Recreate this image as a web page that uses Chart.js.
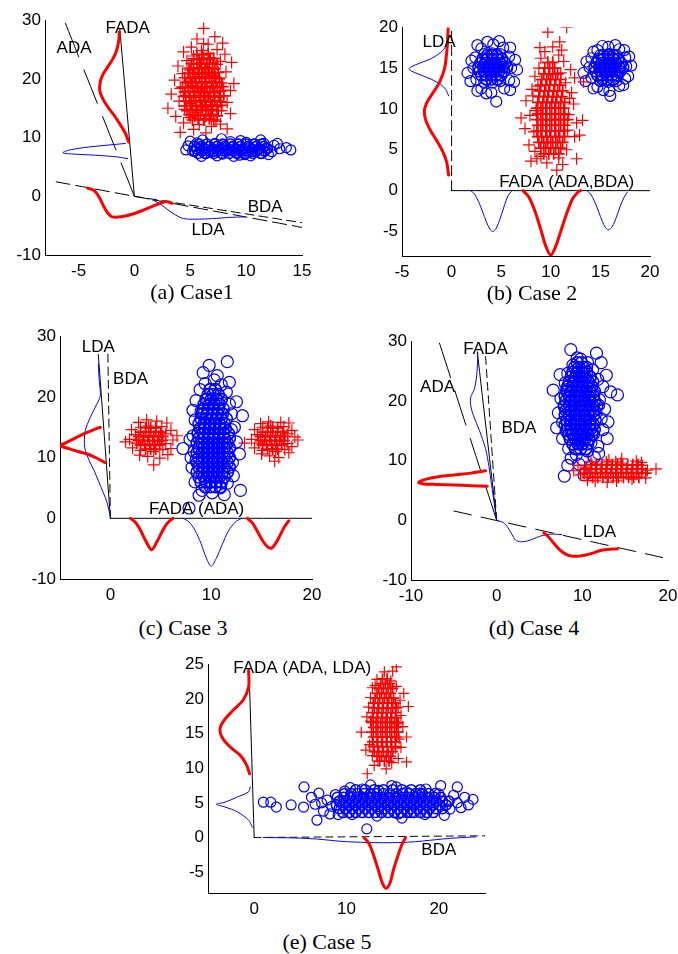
<!DOCTYPE html>
<html>
<head>
<meta charset="utf-8">
<script src="https://cdn.jsdelivr.net/npm/chart.js@4.4.1/dist/chart.umd.min.js"></script>
<style>
  body { margin: 0; background: #fff; }
  #page { position: relative; width: 678px; height: 954px; overflow: hidden; background: #fff; }
  .panel { position: absolute; }
  .caption { position: absolute; font: 22px "Liberation Serif", "Times New Roman", serif; line-height: 26px; color: #000; transform: translateX(-50%); white-space: nowrap; }
</style>
</head>
<body>
<div id="page"></div>
<script>
// ---------- (a) Case1 ----------
const aXRange = [-8, 15];
const aYRange = [-10, 30];
const aXTicks = [-5, 0, 5, 10, 15];
const aYTicks = [-10, 0, 10, 20, 30];
const aRedPts = [[6.2,28.6],[7.2,27.2],[5.6,26.8],[6.6,25.9],[5.1,25.4],[7.4,25.0],[4.4,24.6],[6.0,24.8],[8.1,24.2],[5.3,23.9],[6.8,23.6],[4.7,23.1],[7.7,23.0],[8.7,22.8],[5.9,22.6],[3.9,22.2],[6.4,22.0],[7.2,21.8],[5.0,21.5],[8.2,21.2],[4.3,20.9],[6.0,20.8],[6.9,20.6],[5.5,20.2],[7.6,20.0],[3.6,19.8],[4.8,19.6],[6.3,19.4],[8.9,19.2],[5.2,18.9],[7.1,18.8],[4.1,18.4],[6.0,18.3],[8.0,18.1],[8.6,18.0],[5.6,17.8],[6.7,17.6],[3.3,17.4],[4.6,17.2],[7.5,17.1],[5.9,16.8],[6.4,16.4],[4.0,16.2],[8.3,16.0],[5.1,15.8],[7.0,15.6],[3.0,15.0],[6.1,15.2],[4.5,14.8],[7.8,14.6],[5.6,14.3],[6.8,14.0],[8.6,14.1],[3.7,13.6],[5.0,13.4],[6.3,13.1],[7.3,12.8],[4.4,12.5],[5.8,12.2],[6.9,11.9],[8.3,11.5],[4.1,10.9],[5.3,11.4],[6.4,10.8],[7.7,12.3],[6.2,26.0],[7.9,26.1]];
const aRedCore = [[5.2,13.0],[5.7,13.2],[6.2,13.0],[6.7,13.2],[7.1,13.0],[4.9,13.9],[5.4,13.7],[5.9,13.9],[6.4,13.7],[6.9,13.9],[7.4,13.7],[4.7,14.6],[5.2,14.8],[5.6,14.6],[6.1,14.8],[6.6,14.6],[7.0,14.8],[7.5,14.6],[4.5,15.4],[5.0,15.5],[5.5,15.3],[6.0,15.5],[6.4,15.3],[6.9,15.5],[7.4,15.3],[7.8,15.5],[4.6,16.2],[5.1,16.1],[5.5,16.3],[5.9,16.1],[6.3,16.3],[6.8,16.1],[7.2,16.3],[7.7,16.1],[4.4,17.0],[4.9,16.9],[5.3,17.1],[5.8,16.9],[6.2,17.1],[6.6,16.9],[7.1,17.1],[7.6,16.9],[8.0,17.1],[4.5,17.8],[5.0,17.9],[5.4,17.7],[5.9,17.9],[6.3,17.7],[6.8,17.9],[7.2,17.7],[7.7,17.9],[4.3,18.6],[4.8,18.5],[5.2,18.7],[5.7,18.5],[6.1,18.7],[6.5,18.5],[7.0,18.7],[7.4,18.5],[7.9,18.7],[4.6,19.4],[5.1,19.3],[5.5,19.5],[6.0,19.3],[6.4,19.5],[6.9,19.3],[7.3,19.5],[7.8,19.3],[4.5,20.2],[5.0,20.1],[5.4,20.3],[5.8,20.1],[6.3,20.3],[6.7,20.1],[7.2,20.3],[7.6,20.1],[4.8,21.0],[5.2,20.9],[5.7,21.1],[6.1,20.9],[6.6,21.1],[7.0,20.9],[7.5,21.1],[4.9,21.8],[5.3,21.7],[5.8,21.9],[6.3,21.7],[6.7,21.9],[7.2,21.7],[5.1,22.6],[5.6,22.5],[6.0,22.7],[6.5,22.5],[7.0,22.7],[7.4,22.5],[5.3,23.4],[5.8,23.3],[6.2,23.5],[6.7,23.3],[7.1,23.5],[5.6,24.2],[6.1,24.1],[6.6,24.3]];
const aBluePts = [[4.8,8.6],[5.2,7.7],[5.6,9.1],[5.9,8.2],[6.3,7.3],[6.1,9.6],[6.7,8.5],[7.0,7.6],[7.2,9.0],[7.5,8.1],[7.9,7.2],[8.0,8.8],[8.3,7.9],[8.6,9.3],[8.8,8.4],[9.1,7.5],[9.3,8.9],[9.6,8.0],[9.9,7.1],[10.0,9.2],[10.3,8.3],[10.6,7.6],[10.8,8.9],[11.1,8.0],[11.4,7.3],[11.6,9.0],[11.9,8.2],[12.3,7.6],[12.5,8.7],[13.0,8.1],[13.6,8.3],[14.0,7.9],[9.5,9.5],[11.3,9.6],[12.0,7.1],[6.0,6.8],[7.4,6.9],[8.9,6.8],[10.4,6.9],[5.0,9.4],[12.8,9.0],[4.6,7.9],[7.8,9.8],[9.4,7.0]];
const aBlueCore = [[5.7,7.3],[6.4,7.3],[7.1,7.3],[7.8,7.3],[8.5,7.3],[9.2,7.3],[9.9,7.3],[10.6,7.3],[11.3,7.3],[5.4,7.7],[6.05,7.7],[6.75,7.7],[7.45,7.7],[8.15,7.7],[8.85,7.7],[9.55,7.7],[10.25,7.7],[10.95,7.7],[11.65,7.7],[5.6,8.1],[6.3,8.1],[7.0,8.1],[7.7,8.1],[8.4,8.1],[9.1,8.1],[9.8,8.1],[10.5,8.1],[11.2,8.1],[11.9,8.1],[5.35,8.5],[6.0,8.5],[6.7,8.5],[7.4,8.5],[8.1,8.5],[8.8,8.5],[9.5,8.5],[10.2,8.5],[10.9,8.5],[11.6,8.5],[5.8,8.9],[6.5,8.9],[7.2,8.9],[7.9,8.9],[8.6,8.9],[9.3,8.9],[10.0,8.9],[10.7,8.9],[11.4,8.9]];
const aRedDensUp = [[-0.5,9.2],[-0.8,10.7],[-1.2,12],[-1.7,13.5],[-2.3,15],[-2.8,16.5],[-3.1,18],[-3.05,19.5],[-2.8,20.8],[-2.4,22],[-1.9,23.5],[-1.6,24.8],[-1.4,26.5],[-1.35,28]];
const aBlueDensLeft = [[-0.8,9.0],[-2.5,8.7],[-4.5,8.3],[-6.0,7.8],[-6.4,7.4],[-5.5,7.2],[-3.5,7.0],[-1.5,6.7],[-0.6,6.4]];
const aRedDensLow = [[-4.2,1.4],[-3.6,1.0],[-3.2,0],[-2.8,-1.5],[-2.4,-2.8],[-2.0,-3.5],[-1.2,-3.5],[-0.3,-3.1],[0.6,-2.5],[1.5,-1.8],[2.2,-1.3],[2.8,-0.9],[3.4,-1.2]];
const aBlueDensLow = [[1.6,-0.6],[2.3,-1.3],[3.0,-2.3],[3.7,-3.2],[4.4,-3.8],[5.5,-3.9],[7,-3.8],[8.5,-3.6],[9.9,-3.5]];
const aFadaLine = [[0,0],[-1.3,28.4]];
const aAdaLine = [[0,0],[-6.2,29.6]];
const aLdaLine = [[-7,2.47],[15,-5.3]];
const aBdaLine = [[0,0],[15,-4.5]];
const aLabels = [['FADA',-0.6,28.6],['ADA',-5.4,25.2],['BDA',11.7,-1.8],['LDA',6.6,-5.8]];

// ---------- (b) Case 2 ----------
const bXRange = [-5, 20];
const bYRange = [-8, 20];
const bXTicks = [-5, 0, 5, 10, 15, 20];
const bYTicks = [-5, 0, 5, 10, 15, 20];
const bBluePts1 = [[2.2,15.0],[6.0,15.0],[2.4,16.3],[5.8,16.4],[2.5,13.6],[5.8,13.5],[3.0,17.4],[5.2,17.5],[3.0,12.5],[5.3,12.5],[4.2,17.9],[4.0,12.0],[1.6,14.4],[6.6,14.8],[2.0,15.9],[6.4,16.0],[1.9,13.4],[6.3,13.3],[3.6,18.2],[4.8,18.3],[3.5,11.9],[4.5,10.9],[2.6,17.8],[5.9,17.5],[2.6,12.2],[5.9,12.3],[4.1,16.8],[4.1,13.2],[3.3,16.7],[4.9,16.7],[3.3,13.3],[4.9,13.4]];
const bBlueCore1 = [[3.5,13.6],[4.0,13.6],[4.6,13.6],[3.0,14.1],[3.5,14.1],[4.0,14.1],[4.5,14.1],[5.0,14.1],[2.8,14.6],[3.3,14.6],[3.8,14.6],[4.3,14.6],[4.8,14.6],[5.3,14.6],[2.7,15.1],[3.2,15.1],[3.7,15.1],[4.2,15.1],[4.7,15.1],[5.2,15.1],[5.6,15.1],[2.9,15.6],[3.4,15.6],[3.9,15.6],[4.4,15.6],[4.9,15.6],[5.4,15.6],[3.1,16.1],[3.6,16.1],[4.1,16.1],[4.6,16.1],[5.1,16.1],[3.6,16.6],[4.1,16.6],[4.6,16.6]];
const bBluePts2 = [[13.9,15.1],[17.6,15.2],[14.1,16.2],[17.5,16.3],[14.1,13.8],[17.5,13.7],[14.7,17.2],[16.9,17.3],[14.7,12.7],[16.9,12.8],[15.8,17.6],[15.9,12.2],[13.3,14.4],[18.1,15.3],[13.6,15.8],[17.9,16.4],[13.5,13.4],[17.8,14.0],[15.2,17.7],[16.5,17.8],[15.3,12.3],[16.0,11.6],[14.3,17.0],[17.4,17.2],[14.3,12.5],[17.3,12.9],[15.9,16.7],[15.8,13.3],[15.0,16.6],[16.6,16.6],[15.0,13.4],[16.6,13.4]];
const bBlueCore2 = [[15.2,13.6],[15.7,13.6],[16.3,13.6],[14.7,14.1],[15.2,14.1],[15.7,14.1],[16.2,14.1],[16.7,14.1],[14.5,14.6],[15.0,14.6],[15.5,14.6],[16.0,14.6],[16.5,14.6],[17.0,14.6],[14.4,15.1],[14.9,15.1],[15.4,15.1],[15.9,15.1],[16.4,15.1],[16.9,15.1],[17.3,15.1],[14.6,15.6],[15.1,15.6],[15.6,15.6],[16.1,15.6],[16.6,15.6],[17.1,15.6],[14.8,16.1],[15.3,16.1],[15.8,16.1],[16.3,16.1],[16.8,16.1],[15.3,16.6],[15.8,16.6],[16.3,16.6]];
const bRedPts = [[9.7,19.4],[11.6,20.0],[10.2,17.6],[9.4,17.0],[10.8,16.6],[9.0,16.2],[11.3,15.8],[8.8,15.0],[11.0,14.4],[12.0,14.8],[8.4,14.0],[11.5,13.2],[13.3,13.3],[8.7,12.8],[12.1,12.0],[8.2,11.6],[12.3,10.6],[8.5,9.8],[11.8,9.3],[7.9,9.2],[7.0,8.9],[12.6,8.3],[11.7,7.4],[8.3,7.2],[12.4,6.6],[7.8,5.6],[11.6,5.0],[8.4,4.8],[12.6,3.9],[9.0,4.2],[10.8,4.0],[8.0,3.6],[9.6,3.4],[11.2,3.2],[10.6,2.5],[8.6,3.9],[12.9,6.8],[7.4,7.6],[8.1,12.4],[11.9,11.3],[11.1,17.2],[10.9,18.2],[8.9,17.5],[12.4,13.8],[13.2,8.6],[7.5,11.0]];
const bRedCore = [[9.3,4.5],[9.8,4.5],[10.3,4.5],[10.8,4.5],[9.0,5.2],[9.5,5.2],[10.0,5.2],[10.5,5.2],[11.0,5.2],[8.8,5.9],[9.3,5.9],[9.7,5.9],[10.2,5.9],[10.7,5.9],[11.2,5.9],[8.7,6.6],[9.1,6.6],[9.6,6.6],[10.0,6.6],[10.5,6.6],[10.9,6.6],[11.4,6.6],[8.6,7.3],[9.0,7.3],[9.5,7.3],[9.9,7.3],[10.4,7.3],[10.8,7.3],[11.3,7.3],[8.7,8.0],[9.2,8.0],[9.6,8.0],[10.1,8.0],[10.5,8.0],[11.0,8.0],[11.4,8.0],[8.6,8.7],[9.0,8.7],[9.5,8.7],[9.9,8.7],[10.4,8.7],[10.8,8.7],[11.3,8.7],[11.7,8.7],[8.7,9.4],[9.2,9.4],[9.6,9.4],[10.1,9.4],[10.5,9.4],[11.0,9.4],[11.4,9.4],[8.6,10.1],[9.0,10.1],[9.5,10.1],[9.9,10.1],[10.4,10.1],[10.8,10.1],[11.3,10.1],[8.7,10.8],[9.2,10.8],[9.6,10.8],[10.1,10.8],[10.5,10.8],[11.0,10.8],[11.4,10.8],[8.8,11.5],[9.3,11.5],[9.7,11.5],[10.2,11.5],[10.6,11.5],[11.1,11.5],[8.9,12.2],[9.4,12.2],[9.8,12.2],[10.3,12.2],[10.7,12.2],[11.2,12.2],[9.0,12.9],[9.5,12.9],[9.9,12.9],[10.4,12.9],[10.9,12.9],[9.1,13.6],[9.6,13.6],[10.0,13.6],[10.5,13.6],[11.0,13.6],[9.3,14.3],[9.8,14.3],[10.2,14.3],[10.7,14.3],[9.4,15.0],[9.9,15.0],[10.4,15.0],[9.7,15.7],[10.2,15.7]];
const bBlueDensLeft = [[-0.3,18.5],[-0.6,17.6],[-1.1,16.9],[-2.0,16.2],[-3.2,15.6],[-4.0,15.2],[-4.3,14.9],[-4.0,14.6],[-3.2,14.2],[-2.0,13.6],[-1.1,13.0],[-0.6,12.4],[-0.3,11.6]];
const bRedDensLeft = [[-0.35,19.8],[-0.45,17.5],[-0.7,15],[-1.2,13.3],[-1.8,12.1],[-2.4,11],[-2.75,9.8],[-2.6,8.6],[-2.1,7.3],[-1.5,6.1],[-0.9,4.8],[-0.5,3.5],[-0.3,1.9]];
const bBlueDip1 = [[1.9,0],[2.3,-0.4],[2.7,-1.3],[3.1,-2.5],[3.5,-3.8],[3.85,-4.7],[4.15,-5.0],[4.5,-4.6],[4.9,-3.4],[5.3,-1.9],[5.7,-0.6],[6.1,0]];
const bBlueDip2 = [[13.6,0],[14.0,-0.4],[14.4,-1.3],[14.8,-2.5],[15.2,-3.8],[15.5,-4.5],[15.8,-4.8],[16.2,-4.4],[16.6,-3.3],[17.0,-1.9],[17.4,-0.8],[17.7,-0.2]];
const bRedDip = [[7.2,0],[7.8,-0.8],[8.4,-2.5],[9.0,-4.8],[9.5,-6.8],[10.0,-7.9],[10.5,-6.8],[11.0,-5.0],[11.6,-2.8],[12.2,-1.0],[12.8,-0.1],[13.0,0]];
const bLdaLine = [[0,0],[0,19.5]];
const bFadaLine = [[0,0],[20,0]];
const bLabels = [['LDA',-1.27,18.1],['FADA (ADA,BDA)',11.6,1.0]];

// ---------- (c) Case 3 ----------
const cXRange = [-5, 20];
const cYRange = [-10, 30];
const cXTicks = [0, 10, 20];
const cYTicks = [-10, 0, 10, 20, 30];
const cRedPts1 = [[3.8,15.2],[4.3,11.0],[3.0,15.0],[5.1,15.1],[3.0,11.2],[5.2,11.3],[1.9,13.0],[6.2,12.9],[2.1,14.6],[6.0,14.5],[2.2,11.6],[6.0,11.5],[3.6,16.2],[4.6,16.0],[3.7,10.2],[4.9,9.9],[4.3,8.8],[1.5,12.6],[6.6,13.6],[2.8,15.8],[5.6,15.7],[2.9,10.4],[5.7,10.5],[2.5,13.8],[5.5,13.9],[2.6,12.4],[5.5,12.3]];
const cRedCore1 = [[3.5,11.4],[4.0,11.4],[4.5,11.4],[3.0,12.1],[3.4,12.1],[3.9,12.1],[4.4,12.1],[4.9,12.1],[2.8,12.8],[3.2,12.8],[3.7,12.8],[4.2,12.8],[4.7,12.8],[5.1,12.8],[2.8,13.5],[3.3,13.5],[3.8,13.5],[4.3,13.5],[4.8,13.5],[5.2,13.5],[3.0,14.2],[3.5,14.2],[4.0,14.2],[4.5,14.2],[5.0,14.2],[3.5,14.9],[4.0,14.9],[4.5,14.9]];
const cRedPts2 = [[15.9,15.2],[16.4,11.0],[15.1,15.0],[17.2,15.1],[15.1,11.2],[17.3,11.3],[14.0,13.0],[18.3,13.4],[14.3,14.6],[18.0,14.5],[14.3,11.6],[18.0,11.8],[15.7,15.9],[16.9,15.8],[15.8,10.3],[16.7,10.0],[16.3,9.4],[13.3,12.4],[18.6,12.9],[14.9,15.6],[17.7,15.7],[15.0,10.6],[17.7,10.8],[14.6,13.8],[17.6,13.9],[14.7,12.4],[17.6,12.3]];
const cRedCore2 = [[15.6,11.4],[16.1,11.4],[16.6,11.4],[15.1,12.1],[15.5,12.1],[16.0,12.1],[16.5,12.1],[17.0,12.1],[14.9,12.8],[15.3,12.8],[15.8,12.8],[16.3,12.8],[16.8,12.8],[17.2,12.8],[14.9,13.5],[15.4,13.5],[15.9,13.5],[16.4,13.5],[16.9,13.5],[17.3,13.5],[15.1,14.2],[15.6,14.2],[16.1,14.2],[16.6,14.2],[17.1,14.2],[15.6,14.9],[16.1,14.9],[16.6,14.9]];
const cBluePts = [[9.8,25.2],[11.6,25.8],[10.3,22.8],[9.4,22.2],[11.0,22.0],[8.9,21.2],[11.5,20.8],[8.5,19.4],[11.8,18.8],[9.0,17.6],[12.0,17.2],[13.1,16.9],[8.4,16.2],[12.3,15.0],[8.2,13.6],[12.5,12.6],[7.2,11.5],[8.3,11.0],[12.8,10.6],[8.5,9.6],[12.1,9.2],[8.1,8.4],[12.2,7.0],[11.6,5.8],[8.4,6.0],[10.9,5.0],[12.9,4.6],[9.1,4.6],[10.1,4.2],[8.8,3.8],[11.3,3.9],[7.8,1.7],[8.2,17.8],[12.5,19.2],[10.6,23.5],[7.9,13.0],[9.2,24.0],[11.8,22.4],[12.0,14.6],[8.0,10.0]];
const cBlueCore = [[9.4,5.2],[9.9,5.2],[10.4,5.2],[10.9,5.2],[9.0,6.0],[9.5,6.0],[10.0,6.0],[10.5,6.0],[11.0,6.0],[8.8,6.8],[9.3,6.8],[9.8,6.8],[10.3,6.8],[10.8,6.8],[11.3,6.8],[8.6,7.6],[9.1,7.6],[9.6,7.6],[10.1,7.6],[10.6,7.6],[11.1,7.6],[11.6,7.6],[8.8,8.4],[9.3,8.4],[9.8,8.4],[10.3,8.4],[10.8,8.4],[11.3,8.4],[11.8,8.4],[8.6,9.2],[9.1,9.2],[9.6,9.2],[10.1,9.2],[10.6,9.2],[11.1,9.2],[11.6,9.2],[8.8,10.0],[9.3,10.0],[9.8,10.0],[10.3,10.0],[10.8,10.0],[11.3,10.0],[11.8,10.0],[8.6,10.8],[9.1,10.8],[9.6,10.8],[10.1,10.8],[10.6,10.8],[11.1,10.8],[11.6,10.8],[8.8,11.6],[9.3,11.6],[9.8,11.6],[10.3,11.6],[10.8,11.6],[11.3,11.6],[11.8,11.6],[8.6,12.4],[9.1,12.4],[9.6,12.4],[10.1,12.4],[10.6,12.4],[11.1,12.4],[11.6,12.4],[8.8,13.2],[9.3,13.2],[9.8,13.2],[10.3,13.2],[10.8,13.2],[11.3,13.2],[11.8,13.2],[8.7,14.0],[9.2,14.0],[9.7,14.0],[10.2,14.0],[10.7,14.0],[11.2,14.0],[11.7,14.0],[8.9,14.8],[9.4,14.8],[9.9,14.8],[10.4,14.8],[10.9,14.8],[11.4,14.8],[8.8,15.6],[9.3,15.6],[9.8,15.6],[10.3,15.6],[10.8,15.6],[11.3,15.6],[9.0,16.4],[9.5,16.4],[10.0,16.4],[10.5,16.4],[11.0,16.4],[11.5,16.4],[9.1,17.2],[9.6,17.2],[10.1,17.2],[10.6,17.2],[11.1,17.2],[9.2,18.0],[9.7,18.0],[10.2,18.0],[10.7,18.0],[11.2,18.0],[9.3,18.8],[9.8,18.8],[10.3,18.8],[10.8,18.8],[9.5,19.6],[10.0,19.6],[10.5,19.6],[11.0,19.6],[9.7,20.4],[10.2,20.4],[10.7,20.4],[9.9,21.2],[10.4,21.2]];
const cRedDensLeft = [[-1.0,15.0],[-1.8,14.5],[-2.65,13.9],[-3.4,13.3],[-4.0,12.8],[-4.6,12.3],[-5.0,12.0],[-4.6,11.7],[-4.0,11.4],[-3.2,11.0],[-2.3,10.6],[-1.6,10.1],[-1.0,9.6],[-0.55,9.2]];
const cBlueDensLeft = [[-1.2,25.4],[-1.1,22.5],[-1.0,20.2],[-1.5,18.3],[-2.0,16.6],[-2.5,14.4],[-2.55,11.7],[-2.1,9.5],[-1.6,7.8],[-1.2,6.2],[-0.7,4.2],[-0.33,2.6],[0,0.2]];
const cBlueDip = [[7.2,0],[7.8,-0.6],[8.4,-2.0],[9.0,-4.2],[9.5,-6.5],[10.0,-7.9],[10.5,-6.6],[11.1,-4.3],[11.7,-2.1],[12.4,-0.6],[13.0,0]];
const cRedDip1 = [[2.0,0],[2.5,-0.7],[3.0,-2.0],[3.5,-3.7],[4.08,-5.2],[4.6,-3.9],[5.1,-2.3],[5.6,-0.9],[6.2,0]];
const cRedDip2 = [[13.6,0],[14.1,-0.8],[14.6,-2.2],[15.1,-3.7],[15.6,-4.7],[16.0,-4.9],[16.4,-4.1],[16.8,-2.9],[17.2,-1.6],[17.7,-0.4]];
const cLdaLine = [[0,0],[-1.2,27]];
const cBdaLine = [[0,0],[-0.25,27]];
const cFadaLine = [[0,0],[20,0]];
const cLabels = [['LDA',-1.2,28.2],['BDA',2.0,22.9],['FADA (ADA)',8.55,1.4]];

// ---------- (d) Case 4 ----------
const dXRange = [-10, 20];
const dYRange = [-10, 30];
const dXTicks = [-10, 0, 10, 20];
const dYTicks = [-10, 0, 10, 20, 30];
const dBluePts = [[8.65,28.6],[11.65,28.0],[9.8,27.0],[10.6,26.4],[8.9,26.0],[11.2,25.2],[8.3,24.6],[11.8,23.6],[8.0,23.0],[12.4,22.4],[8.7,21.6],[13.3,21.5],[7.5,20.4],[12.0,20.2],[7.9,19.0],[12.6,18.6],[11.6,18.0],[12.2,17.0],[7.7,16.4],[12.4,15.2],[11.3,14.4],[7.7,13.7],[11.0,13.0],[8.4,12.0],[10.6,11.6],[9.3,11.0],[11.4,10.6],[10.0,10.2],[7.9,7.4],[10.2,7.6],[9.6,9.4],[8.7,10.4],[8.2,21.9],[11.9,19.3],[8.1,15.0],[11.8,12.4],[10.9,24.0],[9.4,27.2],[12.8,24.3],[14.1,21.0],[7.2,18.0],[6.6,21.8],[13.0,16.5],[12.9,13.7],[7.0,15.5],[10.5,25.6],[12.2,26.4],[7.4,24.4],[11.9,11.2],[8.3,9.2]];
const dBlueCore = [[9.2,12.0],[9.8,12.0],[10.4,12.0],[8.9,12.8],[9.5,12.8],[10.0,12.8],[10.6,12.8],[8.6,13.6],[9.2,13.6],[9.7,13.6],[10.3,13.6],[10.8,13.6],[8.4,14.4],[8.9,14.4],[9.5,14.4],[10.0,14.4],[10.6,14.4],[11.1,14.4],[8.2,15.2],[8.7,15.2],[9.3,15.2],[9.8,15.2],[10.4,15.2],[10.9,15.2],[11.4,15.2],[8.0,16.0],[8.6,16.0],[9.1,16.0],[9.7,16.0],[10.2,16.0],[10.8,16.0],[11.3,16.0],[8.2,16.8],[8.7,16.8],[9.3,16.8],[9.8,16.8],[10.4,16.8],[10.9,16.8],[11.5,16.8],[8.0,17.6],[8.5,17.6],[9.1,17.6],[9.6,17.6],[10.2,17.6],[10.7,17.6],[11.3,17.6],[8.1,18.4],[8.7,18.4],[9.2,18.4],[9.8,18.4],[10.3,18.4],[10.9,18.4],[11.4,18.4],[7.9,19.2],[8.5,19.2],[9.0,19.2],[9.6,19.2],[10.1,19.2],[10.7,19.2],[11.2,19.2],[11.7,19.2],[8.1,20.0],[8.7,20.0],[9.2,20.0],[9.8,20.0],[10.3,20.0],[10.9,20.0],[11.4,20.0],[8.0,20.8],[8.5,20.8],[9.1,20.8],[9.6,20.8],[10.2,20.8],[10.7,20.8],[11.3,20.8],[8.2,21.6],[8.7,21.6],[9.3,21.6],[9.8,21.6],[10.4,21.6],[10.9,21.6],[11.4,21.6],[8.3,22.4],[8.9,22.4],[9.4,22.4],[10.0,22.4],[10.5,22.4],[11.1,22.4],[8.5,23.2],[9.0,23.2],[9.6,23.2],[10.1,23.2],[10.7,23.2],[11.2,23.2],[8.7,24.0],[9.2,24.0],[9.8,24.0],[10.3,24.0],[10.9,24.0],[8.9,24.8],[9.4,24.8],[10.0,24.8],[10.5,24.8],[9.1,25.6],[9.6,25.6],[10.2,25.6],[9.4,26.4],[9.9,26.4]];
const dRedPts = [[9.0,8.3],[9.8,7.6],[10.4,8.9],[11.6,9.4],[12.8,9.8],[14.0,6.6],[14.5,9.6],[18.6,8.6],[11.0,9.8],[11.5,6.6],[13.1,10.1],[14.6,10.3],[15.8,6.9],[16.3,9.9],[17.0,9.2],[17.4,7.1],[10.6,6.7],[13.9,9.8],[9.5,9.2],[12.9,6.4],[17.6,8.4],[16.9,9.7]];
const dRedCore = [[10.6,7.2],[11.2,7.2],[11.8,7.2],[12.4,7.2],[13.0,7.2],[13.6,7.2],[14.2,7.2],[14.8,7.2],[15.4,7.2],[16.0,7.2],[16.6,7.2],[10.2,7.9],[10.9,7.9],[11.5,7.9],[12.1,7.9],[12.7,7.9],[13.3,7.9],[13.9,7.9],[14.5,7.9],[15.1,7.9],[15.7,7.9],[16.3,7.9],[16.9,7.9],[17.4,7.9],[10.4,8.6],[11.0,8.6],[11.6,8.6],[12.2,8.6],[12.8,8.6],[13.4,8.6],[14.0,8.6],[14.6,8.6],[15.2,8.6],[15.8,8.6],[16.4,8.6],[17.0,8.6],[11.1,9.3],[11.7,9.3],[12.3,9.3],[12.9,9.3],[13.5,9.3],[14.1,9.3],[14.7,9.3],[15.3,9.3],[15.9,9.3],[16.5,9.3]];
const dRedDensLeft = [[-1.3,8.3],[-3,7.9],[-5,7.6],[-6.8,7.3],[-8.2,6.9],[-9.0,6.5],[-9.1,6.3],[-8.5,6.1],[-7,6.0],[-5,5.9],[-3,5.8],[-1.1,5.7]];
const dBlueDensLeft = [[0,0],[-0.3,3],[-0.6,6],[-0.9,9],[-1.3,12],[-2.0,15],[-2.7,17.5],[-3.0,19],[-3.05,20.5],[-2.6,22],[-2.35,24],[-2.25,26],[-2.2,28]];
const dBlueDensLow = [[0,0],[0.8,-0.4],[1.3,-1.2],[1.8,-2.4],[2.2,-3.3],[2.8,-3.6],[3.5,-3.5],[4.3,-3.1],[5.0,-2.7],[5.8,-2.4],[6.6,-2.3],[7.6,-2.4]];
const dRedDensLow = [[5.5,-2.1],[6.0,-2.7],[6.7,-3.9],[7.4,-5.0],[8.1,-5.7],[8.8,-6.0],[9.6,-6.0],[10.4,-5.8],[11.2,-5.5],[12.0,-5.1],[12.9,-4.9],[14.1,-4.8]];
const dFadaLine = [[0,0],[-2.26,28.2]];
const dBdaLine = [[0,0],[-1.3,27.6]];
const dAdaLine = [[0,0],[-6.75,30]];
const dLdaLine = [[-5,1.56],[19.4,-6.25]];
const dLabels = [['FADA',-1.3,28.6],['ADA',-6.9,22.3],['BDA',2.6,15.4],['LDA',12.0,-1.95]];

// ---------- (e) Case 5 ----------
const eXRange = [-5, 25];
const eYRange = [-8, 25];
const eXTicks = [0, 10, 20];
const eYTicks = [-5, 0, 5, 10, 15, 20, 25];
const eRedPts = [[15.4,24.6],[14.1,23.9],[13.3,22.8],[14.8,22.6],[15.4,21.8],[12.8,21.6],[12.6,20.2],[15.8,19.8],[12.4,18.8],[16.7,18.9],[15.9,17.6],[12.6,16.8],[15.5,16.4],[11.6,15.2],[16.5,14.5],[15.7,14.2],[12.5,13.4],[15.3,12.9],[12.8,11.8],[15.6,11.4],[13.4,11.0],[14.9,10.8],[16.5,10.9],[12.25,9.2],[14.3,9.9],[13.0,10.4],[15.6,18.8],[12.2,17.4],[16.1,16.0],[15.9,13.0],[13.1,21.9],[15.0,24.0],[16.2,20.8],[12.1,12.6]];
const eRedCore = [[13.6,11.0],[14.1,11.0],[14.6,11.0],[13.3,11.7],[13.8,11.7],[14.3,11.7],[14.8,11.7],[13.0,12.4],[13.5,12.4],[14.0,12.4],[14.5,12.4],[15.0,12.4],[12.9,13.1],[13.4,13.1],[13.9,13.1],[14.4,13.1],[14.9,13.1],[15.3,13.1],[12.8,13.8],[13.3,13.8],[13.8,13.8],[14.3,13.8],[14.8,13.8],[15.3,13.8],[12.9,14.5],[13.4,14.5],[13.9,14.5],[14.4,14.5],[14.9,14.5],[15.4,14.5],[12.7,15.2],[13.2,15.2],[13.7,15.2],[14.2,15.2],[14.7,15.2],[15.2,15.2],[15.6,15.2],[12.9,15.9],[13.4,15.9],[13.9,15.9],[14.4,15.9],[14.9,15.9],[15.4,15.9],[12.7,16.6],[13.2,16.6],[13.7,16.6],[14.2,16.6],[14.7,16.6],[15.2,16.6],[15.6,16.6],[12.9,17.3],[13.4,17.3],[13.9,17.3],[14.4,17.3],[14.9,17.3],[15.4,17.3],[12.8,18.0],[13.3,18.0],[13.8,18.0],[14.3,18.0],[14.8,18.0],[15.3,18.0],[13.0,18.7],[13.5,18.7],[14.0,18.7],[14.5,18.7],[15.0,18.7],[15.4,18.7],[12.9,19.4],[13.4,19.4],[13.9,19.4],[14.4,19.4],[14.9,19.4],[15.3,19.4],[13.1,20.1],[13.6,20.1],[14.1,20.1],[14.6,20.1],[15.1,20.1],[13.3,20.8],[13.8,20.8],[14.3,20.8],[14.8,20.8],[13.5,21.5],[14.0,21.5],[14.5,21.5],[15.0,21.5],[13.7,22.2],[14.2,22.2],[14.7,22.2],[13.9,22.9],[14.4,22.9]];
const eBluePts = [[1.0,5.1],[1.8,5.1],[2.4,4.4],[4.0,4.7],[5.4,7.3],[5.35,4.4],[6.8,2.5],[12.2,1.25],[23.7,5.5],[22.0,7.3],[20.2,7.5],[20.6,3.2],[6.2,5.8],[6.6,4.8],[7.0,6.4],[7.5,3.8],[7.9,5.4],[8.4,4.5],[8.8,6.2],[9.1,3.3],[9.8,6.7],[10.6,3.3],[11.7,7.0],[13.3,3.1],[13.5,6.8],[15.4,7.3],[15.6,3.4],[16.5,6.6],[17.0,3.6],[17.9,6.4],[18.5,3.3],[20.0,6.3],[21.2,4.1],[21.6,6.1],[22.0,5.0],[22.4,4.3],[22.8,5.8],[23.2,4.7],[18.6,7.0],[8.2,3.4],[16.0,2.8],[7.3,5.0],[12.6,7.6],[14.9,7.5],[10.4,7.2]];
const eBlueCore = [[9.6,3.6],[10.3,3.6],[11.0,3.6],[11.7,3.6],[12.4,3.6],[13.1,3.6],[13.8,3.6],[14.5,3.6],[15.2,3.6],[15.9,3.6],[16.6,3.6],[17.3,3.6],[18.0,3.6],[18.7,3.6],[19.4,3.6],[9.2,4.15],[9.9,4.15],[10.6,4.15],[11.3,4.15],[12.0,4.15],[12.7,4.15],[13.4,4.15],[14.1,4.15],[14.8,4.15],[15.5,4.15],[16.2,4.15],[16.9,4.15],[17.6,4.15],[18.3,4.15],[19.0,4.15],[19.7,4.15],[20.4,4.15],[8.9,4.7],[9.6,4.7],[10.3,4.7],[11.0,4.7],[11.7,4.7],[12.4,4.7],[13.1,4.7],[13.8,4.7],[14.5,4.7],[15.2,4.7],[15.9,4.7],[16.6,4.7],[17.3,4.7],[18.0,4.7],[18.7,4.7],[19.4,4.7],[20.1,4.7],[20.8,4.7],[9.2,5.25],[9.9,5.25],[10.6,5.25],[11.3,5.25],[12.0,5.25],[12.7,5.25],[13.4,5.25],[14.1,5.25],[14.8,5.25],[15.5,5.25],[16.2,5.25],[16.9,5.25],[17.6,5.25],[18.3,5.25],[19.0,5.25],[19.7,5.25],[20.4,5.25],[21.1,5.25],[9.0,5.8],[9.7,5.8],[10.4,5.8],[11.1,5.8],[11.8,5.8],[12.5,5.8],[13.2,5.8],[13.9,5.8],[14.6,5.8],[15.3,5.8],[16.0,5.8],[16.7,5.8],[17.4,5.8],[18.1,5.8],[18.8,5.8],[19.5,5.8],[20.2,5.8],[9.8,6.35],[10.5,6.35],[11.2,6.35],[11.9,6.35],[12.6,6.35],[13.3,6.35],[14.0,6.35],[14.7,6.35],[15.4,6.35],[16.1,6.35],[16.8,6.35],[17.5,6.35],[18.2,6.35],[18.9,6.35],[19.6,6.35],[11.0,6.9],[12.0,6.9],[13.0,6.9],[14.0,6.9],[15.0,6.9],[16.0,6.9],[17.0,6.9],[18.0,6.9]];
const eRedDensLeft = [[-0.6,24.1],[-0.6,21.7],[-1.2,19.8],[-2.25,18.4],[-3.26,16.9],[-3.7,15.7],[-3.5,14.5],[-2.6,13.05],[-1.5,11.85],[-0.8,10.4],[-0.5,9.2]];
const eBlueDensLeft = [[-0.43,7.3],[-0.6,6.6],[-1.9,5.8],[-3.15,5.1],[-4.1,4.8],[-3.15,4.4],[-1.8,3.7],[-0.6,2.5],[-0.2,1.5]];
const eBlueDensLow = [[1,0],[4,-0.05],[6,-0.15],[7.5,-0.3],[9,-0.5],[10,-0.6],[12,-0.7],[14,-0.75],[16,-0.7],[17.5,-0.6],[19,-0.4],[20.5,-0.2],[22,-0.05],[24,0.1]];
const eRedDip = [[11.9,0],[12.4,-0.8],[12.9,-2.4],[13.4,-4.5],[13.9,-6.6],[14.3,-7.3],[14.7,-6.6],[15.1,-4.6],[15.6,-2.5],[16.0,-1.0],[16.4,0]];
const eFadaLine = [[0,0],[-0.55,24]];
const eBdaLine = [[0,0],[25,0.25]];
const eLabels = [['FADA (ADA, LDA)',5.2,24.4],['BDA',20.0,-1.9]];

// ---------- drawing ----------
const page = document.getElementById('page');
const RED = '#ff0000';
const BLUE = '#0000ff';
const AXIS_W = 42, AXIS_H = 30, PAD_T = 14, PAD_R = 20;
const TICK_FONT = { family: '"Liberation Sans", Arial, sans-serif', size: 17 };

const panelText = {
    id: 'panelText',
    afterDatasetsDraw(chart) {
        const items = chart.options.plugins.panelText.items || [];
        const ctx = chart.ctx;
        ctx.save();
        ctx.font = '17px "Liberation Sans", Arial, sans-serif';
        ctx.fillStyle = '#000';
        ctx.textAlign = 'center';
        ctx.textBaseline = 'middle';
        for (const it of items) {
            ctx.fillText(it[0], chart.scales.x.getPixelForValue(it[1]), chart.scales.y.getPixelForValue(it[2]));
        }
        ctx.restore();
    }
};

function toXY(pts) {
    return pts.map(p => ({ x: p[0], y: p[1] }));
}

// lw: marker line width (dense cores use a heavier line so they read as solid)
function Cloud(pts, color, style, r, lw) {
    return { data: toXY(pts), showLine: false, pointStyle: style, pointRadius: r,
        pointBorderWidth: lw || 1.2, borderColor: color, backgroundColor: 'rgba(0,0,0,0)', pointHoverRadius: r };
}

function Curve(pts, color, width, dash) {
    return { data: toXY(pts), showLine: true, pointRadius: 0, borderColor: color, borderWidth: width,
        borderDash: dash || [], fill: false, tension: 0.3, borderCapStyle: 'round', borderJoinStyle: 'round' };
}

function AddPanel(box, xRange, yRange, xTicks, yTicks, datasets, labels) {
    const w = box[2] - box[0] + AXIS_W + PAD_R;
    const h = box[3] - box[1] + PAD_T + AXIS_H;
    const canvas = document.createElement('canvas');
    canvas.className = 'panel';
    canvas.width = w;
    canvas.height = h;
    canvas.style.left = (box[0] - AXIS_W) + 'px';
    canvas.style.top = (box[1] - PAD_T) + 'px';
    canvas.style.width = w + 'px';
    canvas.style.height = h + 'px';
    page.appendChild(canvas);

    new Chart(canvas, {
        type: 'scatter',
        data: { datasets: datasets },
        plugins: [panelText],
        options: {
            responsive: false,
            animation: false,
            events: [],
            layout: { padding: { top: PAD_T, right: PAD_R, left: 0, bottom: 0 } },
            plugins: { legend: { display: false }, tooltip: { enabled: false }, panelText: { items: labels } },
            scales: {
                x: {
                    type: 'linear', min: xRange[0], max: xRange[1],
                    grid: { display: false, drawTicks: false },
                    border: { display: true, color: '#000', width: 1 },
                    ticks: { color: '#000', font: TICK_FONT, padding: 6, maxRotation: 0, autoSkip: false, callback: v => String(v) },
                    afterBuildTicks: s => { s.ticks = xTicks.map(v => ({ value: v })); },
                    afterFit: s => { s.height = AXIS_H; }
                },
                y: {
                    type: 'linear', min: yRange[0], max: yRange[1],
                    grid: { display: false, drawTicks: false },
                    border: { display: true, color: '#000', width: 1 },
                    ticks: { color: '#000', font: TICK_FONT, padding: 4, autoSkip: false, callback: v => String(v) },
                    afterBuildTicks: s => { s.ticks = yTicks.map(v => ({ value: v })); },
                    afterFit: s => { s.width = AXIS_W; }
                }
            }
        }
    });
}

function AddCaption(text, cx, cy) {
    const div = document.createElement('div');
    div.className = 'caption';
    div.textContent = text;
    div.style.left = cx + 'px';
    div.style.top = (cy - 13) + 'px';
    page.appendChild(div);
}

AddPanel([45, 20, 302, 255], aXRange, aYRange, aXTicks, aYTicks, [
    Cloud(aBlueCore, BLUE, 'circle', 5, 1.6),
    Cloud(aBluePts, BLUE, 'circle', 5),
    Cloud(aRedCore, RED, 'cross', 6, 1.7),
    Cloud(aRedPts, RED, 'cross', 6),
    Curve(aRedDensUp, RED, 3),
    Curve(aRedDensLow, RED, 3),
    Curve(aBlueDensLeft, BLUE, 1),
    Curve(aBlueDensLow, BLUE, 1),
    Curve(aFadaLine, '#000', 1),
    Curve(aAdaLine, '#000', 1, [36, 14]),
    Curve(aLdaLine, '#000', 1, [14, 6]),
    Curve(aBdaLine, '#000', 1, [9, 5])
], aLabels);

AddPanel([402, 27, 650, 256], bXRange, bYRange, bXTicks, bYTicks, [
    Cloud(bRedCore, RED, 'cross', 6, 1.7),
    Cloud(bRedPts, RED, 'cross', 6),
    Cloud(bBlueCore1, BLUE, 'circle', 5.5, 1.6),
    Cloud(bBluePts1, BLUE, 'circle', 5.5),
    Cloud(bBlueCore2, BLUE, 'circle', 5.5, 1.6),
    Cloud(bBluePts2, BLUE, 'circle', 5.5),
    Curve(bRedDensLeft, RED, 3),
    Curve(bRedDip, RED, 3),
    Curve(bBlueDensLeft, BLUE, 1),
    Curve(bBlueDip1, BLUE, 1),
    Curve(bBlueDip2, BLUE, 1),
    Curve(bLdaLine, '#000', 1, [10, 5]),
    Curve(bFadaLine, '#000', 1)
], bLabels);

AddPanel([60, 336, 312, 579], cXRange, cYRange, cXTicks, cYTicks, [
    Cloud(cBlueCore, BLUE, 'circle', 6, 1.6),
    Cloud(cBluePts, BLUE, 'circle', 6),
    Cloud(cRedCore1, RED, 'cross', 6, 1.7),
    Cloud(cRedPts1, RED, 'cross', 6),
    Cloud(cRedCore2, RED, 'cross', 6, 1.7),
    Cloud(cRedPts2, RED, 'cross', 6),
    Curve(cRedDensLeft, RED, 3),
    Curve(cRedDip1, RED, 3),
    Curve(cRedDip2, RED, 3),
    Curve(cBlueDensLeft, BLUE, 1),
    Curve(cBlueDip, BLUE, 1),
    Curve(cLdaLine, '#000', 1),
    Curve(cBdaLine, '#000', 1, [8, 5]),
    Curve(cFadaLine, '#000', 1)
], cLabels);

AddPanel([411, 341, 668, 580], dXRange, dYRange, dXTicks, dYTicks, [
    Cloud(dRedCore, RED, 'cross', 6, 1.7),
    Cloud(dRedPts, RED, 'cross', 6),
    Cloud(dBlueCore, BLUE, 'circle', 6, 1.6),
    Cloud(dBluePts, BLUE, 'circle', 6),
    Curve(dRedDensLeft, RED, 3),
    Curve(dRedDensLow, RED, 3),
    Curve(dBlueDensLeft, BLUE, 1),
    Curve(dBlueDensLow, BLUE, 1),
    Curve(dFadaLine, '#000', 1),
    Curve(dBdaLine, '#000', 1, [8, 5]),
    Curve(dAdaLine, '#000', 1, [36, 14]),
    Curve(dLdaLine, '#000', 1, [18, 10])
], dLabels);

AddPanel([208, 664, 485, 893], eXRange, eYRange, eXTicks, eYTicks, [
    Cloud(eRedCore, RED, 'cross', 5.5, 1.7),
    Cloud(eRedPts, RED, 'cross', 5.5),
    Cloud(eBlueCore, BLUE, 'circle', 5, 1.6),
    Cloud(eBluePts, BLUE, 'circle', 5),
    Curve(eRedDensLeft, RED, 3),
    Curve(eRedDip, RED, 3),
    Curve(eBlueDensLeft, BLUE, 1),
    Curve(eBlueDensLow, BLUE, 1),
    Curve(eFadaLine, '#000', 1),
    Curve(eBdaLine, '#000', 1, [7, 5])
], eLabels);

AddCaption('(a) Case1', 192, 292);
AddCaption('(b) Case 2', 532, 293);
AddCaption('(c) Case 3', 183, 628);
AddCaption('(d) Case 4', 534, 628);
AddCaption('(e) Case 5', 327, 942);
</script>
</body>
</html>
